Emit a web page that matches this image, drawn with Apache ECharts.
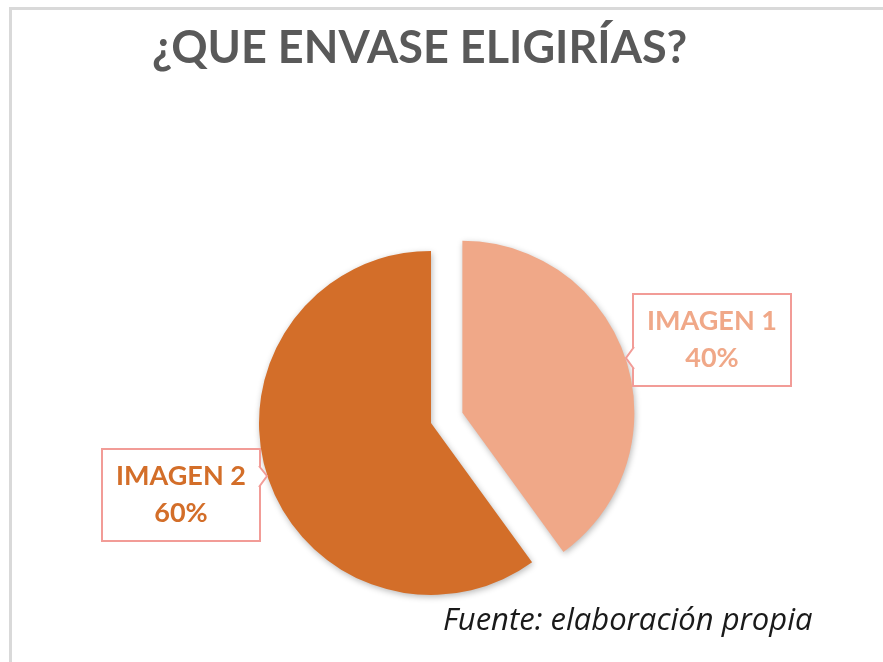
<!DOCTYPE html>
<html>
<head>
<meta charset="utf-8">
<script src="https://cdn.jsdelivr.net/npm/echarts@6.0.0/dist/echarts.min.js"></script>
<style>
  html, body { margin:0; padding:0; background:#fff; overflow:hidden; }
  #frame { position:absolute; left:9px; top:7px; width:900px; height:700px;
    border-left:3px solid #d9d9d9; border-top:3px solid #d9d9d9; }
  #chart { position:absolute; left:0; top:0; width:883px; height:662px; }
</style>
</head>
<body>
<div id="frame"></div>
<div id="chart"></div>
<script>
const categories = ['IMAGEN 1', 'IMAGEN 2'];
const values = [40, 60];

const sliceColors = ['#F0A888', '#D36E29'];
const labelColors = ['#F0A888', '#D36E29'];
const boxBorder = '#F29C97';
const labelPos = [[712, 340], [181, 495]];

const chart = echarts.init(document.getElementById('chart'));

const pieBase = {
  type: 'pie',
  center: [431, 423],
  radius: 172,
  startAngle: 90,
  clockwise: true,
  emphasis: { disabled: true }
};

chart.setOption({
  animation: false,
  backgroundColor: 'transparent',
  title: [
    { text: '¿QUE ENVASE ELIGIRÍAS?', left: 147, top: 21,
      textStyle: { fontFamily: 'Lato', fontWeight: 'bold', fontSize: 45, color: '#595959' } },
    { text: 'Fuente: elaboración propia', left: 438, top: 601,
      textStyle: { fontFamily: 'Open Sans', fontStyle: 'italic', fontWeight: 'normal', fontSize: 31, color: '#1a1a1a' } }
  ],
  series: [
    Object.assign({}, pieBase, {
      selectedMode: 'single',
      selectedOffset: 33,
      itemStyle: { shadowBlur: 6, shadowColor: 'rgba(0,0,0,0.28)', shadowOffsetX: 1, shadowOffsetY: 2 },
      label: { show: false },
      labelLine: { show: false },
      data: categories.map((c, i) => ({
        name: c, value: values[i], selected: i === 0,
        itemStyle: { color: sliceColors[i] }
      }))
    }),
    // same data again, invisible slices, only to carry the callout labels
    Object.assign({}, pieBase, {
      silent: true,
      z: 5,
      itemStyle: { color: 'rgba(0,0,0,0)' },
      label: {
        show: true,
        formatter: p => p.name + '\n' + p.percent + '%',
        fontFamily: 'Lato', fontWeight: 'bold', fontSize: 27, lineHeight: 37,
        backgroundColor: '#fff', borderColor: boxBorder, borderWidth: 2,
        width: 156, align: 'center', padding: [8, 0, 8, 0]
      },
      labelLine: { show: false },
      labelLayout: p => ({ x: labelPos[p.dataIndex][0], y: labelPos[p.dataIndex][1], align: 'center', verticalAlign: 'middle' }),
      data: categories.map((c, i) => ({
        name: c, value: values[i],
        label: { color: labelColors[i] }
      }))
    })
  ],
  graphic: [
    { type: 'polygon', z: 100, shape: { points: [[634, 347], [626, 358], [634, 369], [637, 369], [637, 347]] }, style: { fill: '#fff' } },
    { type: 'polyline', z: 101, shape: { points: [[634, 347], [626, 358], [634, 369]] }, style: { stroke: boxBorder, lineWidth: 2, fill: null } },
    { type: 'polygon', z: 100, shape: { points: [[259, 466], [267, 476], [259, 487], [256, 487], [256, 466]] }, style: { fill: '#fff' } },
    { type: 'polyline', z: 101, shape: { points: [[259, 466], [267, 476], [259, 487]] }, style: { stroke: boxBorder, lineWidth: 2, fill: null } }
  ]
});
</script>
</body>
</html>
